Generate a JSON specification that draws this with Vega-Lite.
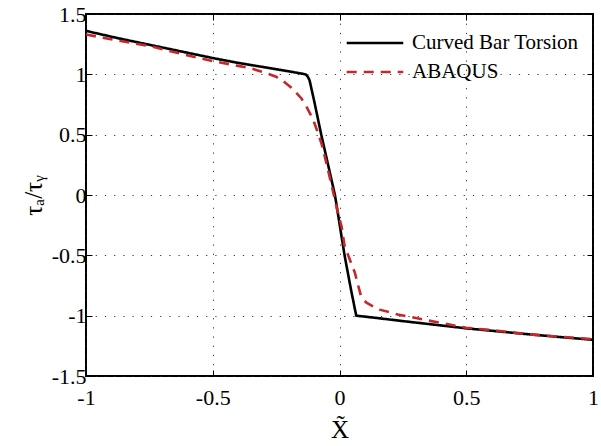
{
  "$schema": "https://vega.github.io/schema/vega-lite/v6.json",
  "autosize": {"type": "none"},
  "padding": {"left": 86, "top": 14, "right": 8, "bottom": 70},
  "width": 507,
  "height": 362,
  "background": "white",
  "config": {
    "view": {"stroke": "black", "strokeWidth": 2},
    "font": "Liberation Serif",
    "axis": {
      "labelFont": "Liberation Serif",
      "titleFont": "Liberation Serif",
      "labelFontSize": 22,
      "titleFontSize": 25,
      "labelColor": "black",
      "titleColor": "black",
      "titleFontWeight": "normal",
      "domain": false,
      "tickColor": "black",
      "tickWidth": 1,
      "tickSize": -6,
      "gridColor": "#222",
      "gridDash": [1.2, 8],
      "gridWidth": 1,
      "gridOpacity": 0.9
    },
    "legend": {
      "labelFont": "Liberation Serif",
      "labelFontSize": 21,
      "labelColor": "black",
      "labelLimit": 400
    }
  },
  "data": {
    "values": [
      {"x": -1, "y": 1.36, "series": "Curved Bar Torsion"},
      {"x": -0.875, "y": 1.3, "series": "Curved Bar Torsion"},
      {"x": -0.75, "y": 1.245, "series": "Curved Bar Torsion"},
      {"x": -0.625, "y": 1.19, "series": "Curved Bar Torsion"},
      {"x": -0.5, "y": 1.135, "series": "Curved Bar Torsion"},
      {"x": -0.4, "y": 1.095, "series": "Curved Bar Torsion"},
      {"x": -0.3, "y": 1.06, "series": "Curved Bar Torsion"},
      {"x": -0.2, "y": 1.025, "series": "Curved Bar Torsion"},
      {"x": -0.134, "y": 1.0, "series": "Curved Bar Torsion"},
      {"x": -0.125, "y": 0.98, "series": "Curved Bar Torsion"},
      {"x": -0.118, "y": 0.95, "series": "Curved Bar Torsion"},
      {"x": -0.1, "y": 0.78, "series": "Curved Bar Torsion"},
      {"x": -0.072, "y": 0.5, "series": "Curved Bar Torsion"},
      {"x": -0.045, "y": 0.25, "series": "Curved Bar Torsion"},
      {"x": -0.018, "y": 0, "series": "Curved Bar Torsion"},
      {"x": 0.02, "y": -0.5, "series": "Curved Bar Torsion"},
      {"x": 0.045, "y": -0.78, "series": "Curved Bar Torsion"},
      {"x": 0.066, "y": -1.0, "series": "Curved Bar Torsion"},
      {"x": 0.15, "y": -1.02, "series": "Curved Bar Torsion"},
      {"x": 0.25, "y": -1.045, "series": "Curved Bar Torsion"},
      {"x": 0.375, "y": -1.075, "series": "Curved Bar Torsion"},
      {"x": 0.5, "y": -1.105, "series": "Curved Bar Torsion"},
      {"x": 0.625, "y": -1.13, "series": "Curved Bar Torsion"},
      {"x": 0.75, "y": -1.155, "series": "Curved Bar Torsion"},
      {"x": 0.875, "y": -1.178, "series": "Curved Bar Torsion"},
      {"x": 1, "y": -1.2, "series": "Curved Bar Torsion"},
      {"x": -1, "y": 1.33, "series": "ABAQUS"},
      {"x": -0.875, "y": 1.28, "series": "ABAQUS"},
      {"x": -0.75, "y": 1.235, "series": "ABAQUS"},
      {"x": -0.625, "y": 1.17, "series": "ABAQUS"},
      {"x": -0.5, "y": 1.11, "series": "ABAQUS"},
      {"x": -0.4, "y": 1.07, "series": "ABAQUS"},
      {"x": -0.35, "y": 1.05, "series": "ABAQUS"},
      {"x": -0.29, "y": 1.01, "series": "ABAQUS"},
      {"x": -0.25, "y": 0.98, "series": "ABAQUS"},
      {"x": -0.22, "y": 0.94, "series": "ABAQUS"},
      {"x": -0.19, "y": 0.89, "series": "ABAQUS"},
      {"x": -0.15, "y": 0.8, "series": "ABAQUS"},
      {"x": -0.13, "y": 0.73, "series": "ABAQUS"},
      {"x": -0.105, "y": 0.63, "series": "ABAQUS"},
      {"x": -0.086, "y": 0.52, "series": "ABAQUS"},
      {"x": -0.07, "y": 0.42, "series": "ABAQUS"},
      {"x": -0.05, "y": 0.25, "series": "ABAQUS"},
      {"x": -0.03, "y": 0.07, "series": "ABAQUS"},
      {"x": -0.007, "y": -0.14, "series": "ABAQUS"},
      {"x": 0.008, "y": -0.26, "series": "ABAQUS"},
      {"x": 0.02, "y": -0.42, "series": "ABAQUS"},
      {"x": 0.036, "y": -0.51, "series": "ABAQUS"},
      {"x": 0.06, "y": -0.64, "series": "ABAQUS"},
      {"x": 0.07, "y": -0.72, "series": "ABAQUS"},
      {"x": 0.085, "y": -0.84, "series": "ABAQUS"},
      {"x": 0.105, "y": -0.89, "series": "ABAQUS"},
      {"x": 0.13, "y": -0.92, "series": "ABAQUS"},
      {"x": 0.158, "y": -0.95, "series": "ABAQUS"},
      {"x": 0.23, "y": -0.99, "series": "ABAQUS"},
      {"x": 0.35, "y": -1.04, "series": "ABAQUS"},
      {"x": 0.5, "y": -1.1, "series": "ABAQUS"},
      {"x": 0.625, "y": -1.125, "series": "ABAQUS"},
      {"x": 0.75, "y": -1.155, "series": "ABAQUS"},
      {"x": 0.875, "y": -1.175, "series": "ABAQUS"},
      {"x": 1, "y": -1.195, "series": "ABAQUS"}
    ]
  },
  "resolve": {"axis": {"x": "independent", "y": "independent"}},
  "layer": [
    {
      "transform": [{"filter": "datum.series === 'Curved Bar Torsion'"}],
      "mark": {"type": "line", "strokeWidth": 2.6, "clip": true},
      "encoding": {
        "x": {
          "field": "x", "type": "quantitative",
          "scale": {"domain": [-1, 1], "nice": false, "zero": false},
          "axis": {
            "orient": "bottom", "values": [-1, -0.5, 0, 0.5, 1],
            "labelExpr": "datum.value + ''", "grid": true,
            "labelPadding": 17, "title": "X\u0303", "titlePadding": 9,
            "labelFlush": false
          }
        },
        "y": {
          "field": "y", "type": "quantitative",
          "scale": {"domain": [-1.5, 1.5], "nice": false, "zero": false},
          "axis": {
            "orient": "left", "values": [-1.5, -1, -0.5, 0, 0.5, 1, 1.5],
            "labelExpr": "datum.value + ''", "grid": true,
            "labelPadding": 6, "title": "τₐ/τᵧ", "titlePadding": 5,
            "labelFlush": false
          }
        },
        "color": {
          "field": "series", "type": "nominal",
          "scale": {"domain": ["Curved Bar Torsion", "ABAQUS"], "range": ["#000000", "#c4282d"]},
          "legend": {
            "title": null, "orient": "none", "legendX": 259, "legendY": 16,
            "symbolType": "stroke", "symbolSize": 3200, "symbolStrokeWidth": 2.6,
            "labelOffset": 7, "rowPadding": 3, "clipHeight": 26, "padding": 0
          }
        },
        "strokeDash": {
          "field": "series", "type": "nominal",
          "scale": {"domain": ["Curved Bar Torsion", "ABAQUS"], "range": [[1, 0], [10, 7]]},
          "legend": {
            "title": null, "orient": "none", "legendX": 259, "legendY": 16,
            "symbolType": "stroke", "symbolSize": 3200, "symbolStrokeWidth": 2.6,
            "labelOffset": 7, "rowPadding": 3, "clipHeight": 26, "padding": 0
          }
        }
      }
    },
    {
      "transform": [{"filter": "datum.series === 'ABAQUS'"}],
      "mark": {"type": "line", "strokeWidth": 2.6, "clip": true},
      "encoding": {
        "x": {
          "field": "x", "type": "quantitative",
          "axis": {
            "orient": "top", "values": [-1, -0.5, 0, 0.5, 1],
            "labels": false, "grid": false, "title": null
          }
        },
        "y": {
          "field": "y", "type": "quantitative",
          "axis": {
            "orient": "right", "values": [-1.5, -1, -0.5, 0, 0.5, 1, 1.5],
            "labels": false, "grid": false, "title": null
          }
        },
        "color": {"field": "series", "type": "nominal"},
        "strokeDash": {"field": "series", "type": "nominal"}
      }
    }
  ]
}
